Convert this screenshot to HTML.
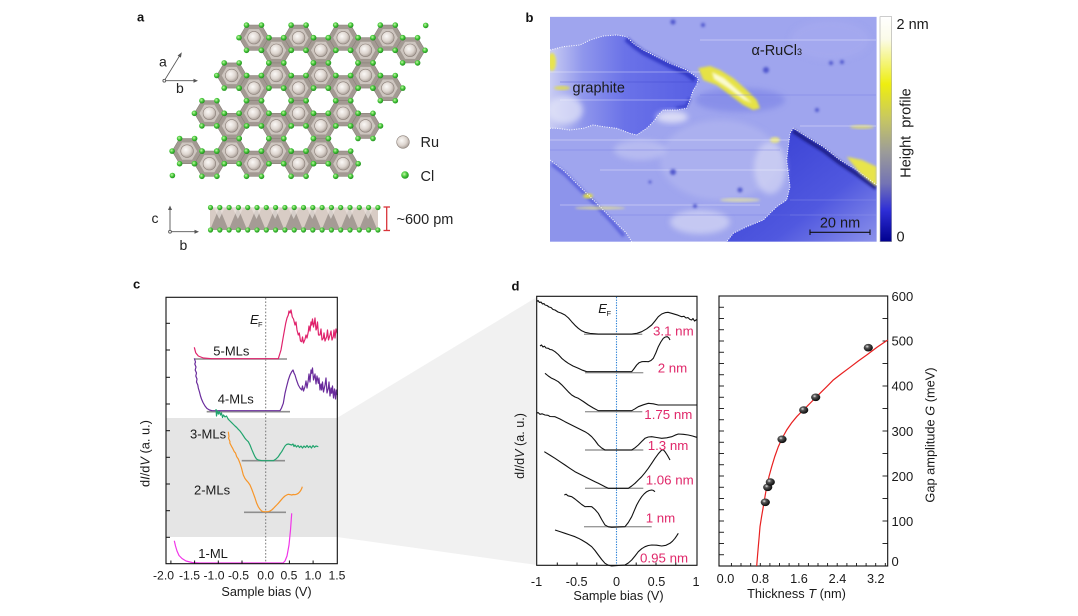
<!DOCTYPE html>
<html><head><meta charset="utf-8"><style>
html,body{margin:0;padding:0;background:#fff;}
svg{display:block;font-family:"Liberation Sans",Arial,sans-serif;}
</style></head><body>
<svg width="1078" height="616" viewBox="0 0 1078 616" xmlns="http://www.w3.org/2000/svg">
<defs>
 <radialGradient id="ruG" cx="40%" cy="38%" r="65%"><stop offset="0" stop-color="#fbf9f7"/><stop offset="0.6" stop-color="#ddd5cf"/><stop offset="1" stop-color="#a99f98"/></radialGradient>
 <radialGradient id="clG" cx="40%" cy="38%" r="65%"><stop offset="0" stop-color="#c8f7a8"/><stop offset="0.5" stop-color="#47c93c"/><stop offset="1" stop-color="#1f8a1c"/></radialGradient>
 <radialGradient id="ballG" cx="38%" cy="35%" r="70%"><stop offset="0" stop-color="#e8e8e8"/><stop offset="0.3" stop-color="#555"/><stop offset="1" stop-color="#000"/></radialGradient>
 <g id="hx">
  <polygon points="15,0 7.5,12.6 -7.5,12.6 -15,0 -7.5,-12.6 7.5,-12.6" fill="#a39a93" stroke="#8a807a" stroke-width="0.6"/>
  <polygon points="10,0 5,8.6 -5,8.6 -10,0 -5,-8.6 5,-8.6" fill="#cdc5bf"/>
  <circle r="6.3" fill="url(#ruG)" stroke="#8a7f78" stroke-width="0.6"/>
 </g>
 <g id="cl6">
  <circle cx="15" cy="0" r="2.8" fill="url(#clG)"/><circle cx="7.5" cy="12.6" r="2.8" fill="url(#clG)"/>
  <circle cx="-7.5" cy="12.6" r="2.8" fill="url(#clG)"/><circle cx="-15" cy="0" r="2.8" fill="url(#clG)"/>
  <circle cx="-7.5" cy="-12.6" r="2.8" fill="url(#clG)"/><circle cx="7.5" cy="-12.6" r="2.8" fill="url(#clG)"/>
 </g>
 <clipPath id="bclip"><rect x="550" y="16.7" width="326.7" height="225"/></clipPath>
 <filter id="bl1" x="-20%" y="-20%" width="140%" height="140%"><feGaussianBlur stdDeviation="1.2"/></filter>
 <filter id="bl3" x="-30%" y="-30%" width="160%" height="160%"><feGaussianBlur stdDeviation="3"/></filter>
 <linearGradient id="gGraph" gradientUnits="userSpaceOnUse" x1="550" y1="0" x2="700" y2="0">
  <stop offset="0" stop-color="#c9ccf3"/><stop offset="0.22" stop-color="#8f96ec"/><stop offset="0.5" stop-color="#6a72e8"/><stop offset="1" stop-color="#565ee4"/></linearGradient>
 <linearGradient id="gDark" gradientUnits="userSpaceOnUse" x1="790" y1="130" x2="876" y2="241">
  <stop offset="0" stop-color="#3d45d6"/><stop offset="0.55" stop-color="#5058df"/><stop offset="1" stop-color="#8a90ea"/></linearGradient>
 <linearGradient id="cbar" x1="0" y1="0" x2="0" y2="1">
  <stop offset="0" stop-color="#ffffff"/><stop offset="0.1" stop-color="#fbfbe8"/><stop offset="0.3" stop-color="#eeee10"/><stop offset="0.45" stop-color="#c8c860"/><stop offset="0.6" stop-color="#9c9c98"/><stop offset="0.74" stop-color="#7474b4"/><stop offset="0.86" stop-color="#2e2ed6"/><stop offset="1" stop-color="#00008e"/></linearGradient>
</defs>
<rect width="1078" height="616" fill="#fff"/>

<!-- ================= Panel a ================= -->
<text x="137" y="21.5" font-size="13" font-weight="bold" fill="#111">a</text>
<g>
 <use href="#hx" x="254" y="37.7"/><use href="#hx" x="298.6" y="37.7"/><use href="#hx" x="343.2" y="37.7"/><use href="#hx" x="387.8" y="37.7"/>
 <use href="#hx" x="276.3" y="50.3"/><use href="#hx" x="320.9" y="50.3"/><use href="#hx" x="365.5" y="50.3"/><use href="#hx" x="410.1" y="50.3"/>
 <use href="#hx" x="231.7" y="75.5"/><use href="#hx" x="276.3" y="75.5"/><use href="#hx" x="320.9" y="75.5"/><use href="#hx" x="365.5" y="75.5"/>
 <use href="#hx" x="254" y="88.1"/><use href="#hx" x="298.6" y="88.1"/><use href="#hx" x="343.2" y="88.1"/><use href="#hx" x="387.8" y="88.1"/>
 <use href="#hx" x="209.4" y="113.3"/><use href="#hx" x="254" y="113.3"/><use href="#hx" x="298.6" y="113.3"/><use href="#hx" x="343.2" y="113.3"/>
 <use href="#hx" x="231.7" y="125.9"/><use href="#hx" x="276.3" y="125.9"/><use href="#hx" x="320.9" y="125.9"/><use href="#hx" x="365.5" y="125.9"/>
 <use href="#hx" x="187.1" y="151.1"/><use href="#hx" x="231.7" y="151.1"/><use href="#hx" x="276.3" y="151.1"/><use href="#hx" x="320.9" y="151.1"/>
 <use href="#hx" x="209.4" y="163.7"/><use href="#hx" x="254" y="163.7"/><use href="#hx" x="298.6" y="163.7"/><use href="#hx" x="343.2" y="163.7"/>
</g>
<g>
 <use href="#cl6" x="254" y="37.7"/><use href="#cl6" x="298.6" y="37.7"/><use href="#cl6" x="343.2" y="37.7"/><use href="#cl6" x="387.8" y="37.7"/>
 <use href="#cl6" x="276.3" y="50.3"/><use href="#cl6" x="320.9" y="50.3"/><use href="#cl6" x="365.5" y="50.3"/><use href="#cl6" x="410.1" y="50.3"/>
 <use href="#cl6" x="231.7" y="75.5"/><use href="#cl6" x="276.3" y="75.5"/><use href="#cl6" x="320.9" y="75.5"/><use href="#cl6" x="365.5" y="75.5"/>
 <use href="#cl6" x="254" y="88.1"/><use href="#cl6" x="298.6" y="88.1"/><use href="#cl6" x="343.2" y="88.1"/><use href="#cl6" x="387.8" y="88.1"/>
 <use href="#cl6" x="209.4" y="113.3"/><use href="#cl6" x="254" y="113.3"/><use href="#cl6" x="298.6" y="113.3"/><use href="#cl6" x="343.2" y="113.3"/>
 <use href="#cl6" x="231.7" y="125.9"/><use href="#cl6" x="276.3" y="125.9"/><use href="#cl6" x="320.9" y="125.9"/><use href="#cl6" x="365.5" y="125.9"/>
 <use href="#cl6" x="187.1" y="151.1"/><use href="#cl6" x="231.7" y="151.1"/><use href="#cl6" x="276.3" y="151.1"/><use href="#cl6" x="320.9" y="151.1"/>
 <use href="#cl6" x="209.4" y="163.7"/><use href="#cl6" x="254" y="163.7"/><use href="#cl6" x="298.6" y="163.7"/><use href="#cl6" x="343.2" y="163.7"/>
 <circle cx="425.7" cy="25.4" r="2.8" fill="url(#clG)"/><circle cx="172.4" cy="175.5" r="2.8" fill="url(#clG)"/>
</g>
<!-- axes a,b -->
<g stroke="#555" stroke-width="0.9" fill="#555">
 <line x1="164.3" y1="80.7" x2="180.6" y2="54.2"/><polygon points="181.8,52.2 177.6,55.6 180.9,57.6" stroke="none"/>
 <line x1="164.3" y1="80.7" x2="195" y2="80.7"/><polygon points="198,80.7 193.5,78.7 193.5,82.7" stroke="none"/>
 <circle cx="164.3" cy="80.7" r="1.4" fill="#fff"/>
</g>
<text x="159" y="66.5" font-size="14" fill="#222">a</text>
<text x="176" y="93" font-size="14" fill="#222">b</text>
<!-- legend -->
<circle cx="403" cy="142" r="6.3" fill="url(#ruG)" stroke="#8a7f78" stroke-width="0.6"/>
<text x="420.5" y="147" font-size="14.5" fill="#222">Ru</text>
<circle cx="405" cy="175" r="3.8" fill="url(#clG)"/>
<text x="420.5" y="181" font-size="14.5" fill="#222">Cl</text>
<!-- side view -->
<g stroke="#555" stroke-width="0.9" fill="#555">
 <line x1="170" y1="231.7" x2="170" y2="209"/><polygon points="170,205.5 168,210 172,210" stroke="none"/>
 <line x1="170" y1="231.7" x2="195.5" y2="231.7"/><polygon points="199,231.7 194.5,229.7 194.5,233.7" stroke="none"/>
 <circle cx="170" cy="231.7" r="1.4" fill="#fff"/>
</g>
<text x="151.5" y="223" font-size="14" fill="#222">c</text>
<text x="179.5" y="250" font-size="14" fill="#222">b</text>
<rect x="210" y="207.5" width="168" height="22.5" fill="#d8ccc5"/>
<g fill="#a59b95">
 <polygon points="210,230 219.3,207.5 228.6,230"/><polygon points="228.6,230 237.9,207.5 247.2,230"/><polygon points="247.2,230 256.5,207.5 265.8,230"/>
 <polygon points="265.8,230 275.1,207.5 284.4,230"/><polygon points="284.4,230 293.7,207.5 303,230"/><polygon points="303,230 312.3,207.5 321.6,230"/>
 <polygon points="321.6,230 330.9,207.5 340.2,230"/><polygon points="340.2,230 349.5,207.5 358.8,230"/><polygon points="358.8,230 368.1,207.5 377.4,230"/>
</g>
<g fill="#ece4df" opacity="0.7">
 <polygon points="214,208 219.3,219 224.6,208"/><polygon points="232.6,208 237.9,219 243.2,208"/><polygon points="251.2,208 256.5,219 261.8,208"/>
 <polygon points="269.8,208 275.1,219 280.4,208"/><polygon points="288.4,208 293.7,219 299,208"/><polygon points="307,208 312.3,219 317.6,208"/>
 <polygon points="325.6,208 330.9,219 336.2,208"/><polygon points="344.2,208 349.5,219 354.8,208"/><polygon points="362.8,208 368.1,219 373.4,208"/>
</g>
<g fill="url(#clG)">
 <circle cx="210.5" cy="207.5" r="2.6"/><circle cx="219.8" cy="207.5" r="2.6"/><circle cx="229.1" cy="207.5" r="2.6"/><circle cx="238.4" cy="207.5" r="2.6"/><circle cx="247.7" cy="207.5" r="2.6"/><circle cx="257" cy="207.5" r="2.6"/><circle cx="266.3" cy="207.5" r="2.6"/><circle cx="275.6" cy="207.5" r="2.6"/><circle cx="284.9" cy="207.5" r="2.6"/><circle cx="294.2" cy="207.5" r="2.6"/><circle cx="303.5" cy="207.5" r="2.6"/><circle cx="312.8" cy="207.5" r="2.6"/><circle cx="322.1" cy="207.5" r="2.6"/><circle cx="331.4" cy="207.5" r="2.6"/><circle cx="340.7" cy="207.5" r="2.6"/><circle cx="350" cy="207.5" r="2.6"/><circle cx="359.3" cy="207.5" r="2.6"/><circle cx="368.6" cy="207.5" r="2.6"/><circle cx="377.9" cy="207.5" r="2.6"/>
 <circle cx="210.5" cy="230" r="2.6"/><circle cx="219.8" cy="230" r="2.6"/><circle cx="229.1" cy="230" r="2.6"/><circle cx="238.4" cy="230" r="2.6"/><circle cx="247.7" cy="230" r="2.6"/><circle cx="257" cy="230" r="2.6"/><circle cx="266.3" cy="230" r="2.6"/><circle cx="275.6" cy="230" r="2.6"/><circle cx="284.9" cy="230" r="2.6"/><circle cx="294.2" cy="230" r="2.6"/><circle cx="303.5" cy="230" r="2.6"/><circle cx="312.8" cy="230" r="2.6"/><circle cx="322.1" cy="230" r="2.6"/><circle cx="331.4" cy="230" r="2.6"/><circle cx="340.7" cy="230" r="2.6"/><circle cx="350" cy="230" r="2.6"/><circle cx="359.3" cy="230" r="2.6"/><circle cx="368.6" cy="230" r="2.6"/><circle cx="377.9" cy="230" r="2.6"/>
</g>
<g stroke="#d8343a" stroke-width="1.3"><line x1="386.7" y1="207" x2="386.7" y2="230.5"/><line x1="383.5" y1="207" x2="390" y2="207"/><line x1="383.5" y1="230.5" x2="390" y2="230.5"/></g>
<text x="396.5" y="224" font-size="14.5" fill="#222">~600 pm</text>

<!-- ================= Panel b ================= -->
<text x="525.5" y="22" font-size="13" font-weight="bold" fill="#111">b</text>
<g clip-path="url(#bclip)">
 <rect x="550" y="16.7" width="326.7" height="225" fill="#9fa5ee"/>
 <!-- subtle tone variation -->
 <ellipse cx="720" cy="160" rx="60" ry="40" fill="#b4b8f0" opacity="0.6" filter="url(#bl3)"/>
 <ellipse cx="740" cy="100" rx="45" ry="12" fill="#7a82e6" opacity="0.6" filter="url(#bl3)"/>
 <ellipse cx="830" cy="40" rx="40" ry="20" fill="#a8acf0" opacity="0.5" filter="url(#bl3)"/>
 <!-- bottom-left region -->
 <polygon points="550,160 563.3,170 580,186.7 596.7,203.3 613.3,220 626.7,233.3 631.7,241.7 550,241.7" fill="#8d94eb"/>
 <polyline points="552,164 565,174 581,190 597,206 612,222 624,236" fill="none" stroke="#4f57d8" stroke-width="4" opacity="0.7" filter="url(#bl1)"/>
 <!-- graphite region -->
 <polygon points="550,50 563.3,46.7 580,45 590,40 603.3,36 616.7,35 626.7,36.7 633.3,43.3 643.3,50 656.7,56.7 670,63.3 686.7,70 698.3,78.3 696.7,85 693.3,90 690,100 686.7,108.3 676.7,110 663.3,110 658.3,115 653.3,121.7 646.7,128.3 636.7,135 630,133.3 616.7,128.3 603.3,126.7 593.3,125 583.3,128.3 570,130 556.7,128.3 550,128.3" fill="url(#gGraph)"/>
 <polyline points="626,39 634,46 644,53 657,59.5 670,66 686,73 695,80" fill="none" stroke="#2a32c0" stroke-width="5" opacity="0.8" filter="url(#bl1)"/>
 <polyline points="690,98 686,106 676,108" fill="none" stroke="#2a32c0" stroke-width="3" opacity="0.6" filter="url(#bl1)"/>
 <ellipse cx="565" cy="110" rx="18" ry="14" fill="#e4e6f8" opacity="0.7" filter="url(#bl3)"/>
 <!-- dark right region -->
 <polygon points="793.3,128.3 806.7,136.7 823.3,146.7 840,160 856.7,170 876.7,185 876.7,241.7 726.7,241.7 733.3,233.3 746.7,226.7 763.3,220 770,213.3 776.7,206.7 786.7,200 790,186.7 788.3,173.3 786.7,160 788.3,146.7 790,133.3" fill="url(#gDark)"/>
 <polyline points="793,131 806,139.5 823,150 840,163 856,173.5 876,188" fill="none" stroke="#14197a" stroke-width="4" opacity="0.85" filter="url(#bl1)"/>
 <!-- light patches -->
 <ellipse cx="672" cy="117" rx="16" ry="6" fill="#e8e8f8" opacity="0.8" filter="url(#bl3)"/>
 <ellipse cx="770" cy="168" rx="16" ry="26" fill="#d4d6f4" opacity="0.7" filter="url(#bl3)"/>
 <ellipse cx="700" cy="222" rx="30" ry="12" fill="#d6d8f4" opacity="0.7" filter="url(#bl3)"/>
 <ellipse cx="640" cy="150" rx="26" ry="10" fill="#c6c9f2" opacity="0.6" filter="url(#bl3)"/>
 <!-- yellow features -->
 <polygon points="698.3,68.3 710,66 720,70 733.3,78.3 746.7,90 756.7,100 760,108.3 753.3,110 743.3,105 730,95 716.7,85 703.3,80" fill="#e6e244" filter="url(#bl1)"/>
 <polygon points="712,72 724,78 740,92 752,103 744,100 728,88 714,79" fill="#fafad0" filter="url(#bl1)"/>
 <polygon points="846.7,156.7 862,160 876.7,166.7 876.7,186.7 860,173.3" fill="#e8e44c" filter="url(#bl1)"/>
 <ellipse cx="552" cy="62" rx="4" ry="9" fill="#e8e450" filter="url(#bl1)"/>
 <ellipse cx="588" cy="196" rx="5" ry="2.5" fill="#e0dc50" filter="url(#bl1)"/>
 <ellipse cx="600" cy="208" rx="25" ry="1.5" fill="#e6e290" opacity="0.8" filter="url(#bl1)"/>
 <ellipse cx="562" cy="88" rx="8" ry="2" fill="#e0dc50" opacity="0.9" filter="url(#bl1)"/>
 <ellipse cx="862" cy="127" rx="12" ry="2" fill="#e0dc70" opacity="0.8" filter="url(#bl1)"/>
 <ellipse cx="775" cy="140" rx="5" ry="3" fill="#ece880" opacity="0.9" filter="url(#bl1)"/>
 <ellipse cx="740" cy="200" rx="20" ry="2" fill="#e8e6a0" opacity="0.7" filter="url(#bl1)"/>
 <!-- streaks -->
 <g stroke-width="0.9" opacity="0.35">
  <line x1="550" y1="140" x2="790" y2="140" stroke="#fff"/><line x1="550" y1="150" x2="780" y2="150" stroke="#6a70e0"/>
  <line x1="600" y1="170" x2="790" y2="170" stroke="#fff"/><line x1="560" y1="205" x2="760" y2="205" stroke="#fff"/>
  <line x1="600" y1="215" x2="790" y2="215" stroke="#6a70e0"/><line x1="550" y1="72" x2="700" y2="72" stroke="#fff"/>
  <line x1="560" y1="82" x2="700" y2="82" stroke="#3a40c8"/><line x1="560" y1="100" x2="690" y2="100" stroke="#fff"/>
  <line x1="700" y1="40" x2="876" y2="40" stroke="#fff"/><line x1="700" y1="95" x2="876" y2="95" stroke="#6a70e0"/>
  <line x1="790" y1="200" x2="876" y2="200" stroke="#9aa0ec"/><line x1="790" y1="215" x2="876" y2="215" stroke="#9aa0ec"/>
  <line x1="800" y1="126" x2="876" y2="126" stroke="#fff"/>
 </g>
 <!-- dark spots -->
 <g fill="#3a42c4" opacity="0.8" filter="url(#bl1)">
  <circle cx="673" cy="22" r="2.5"/><circle cx="703" cy="25" r="2"/><circle cx="831" cy="63" r="2"/><circle cx="842" cy="62" r="2"/>
  <circle cx="673" cy="172" r="3"/><circle cx="740" cy="190" r="2.5"/><circle cx="695" cy="206" r="2"/><circle cx="766" cy="70" r="3"/>
  <circle cx="817" cy="110" r="2"/><circle cx="650" cy="182" r="1.5"/>
 </g>
 <!-- dotted outlines -->
 <g fill="none" stroke="#fff" stroke-width="1" stroke-dasharray="1 1.4">
  <polyline points="550,50 563.3,46.7 580,45 590,40 603.3,36 616.7,35 626.7,36.7 633.3,43.3 643.3,50 656.7,56.7 670,63.3 686.7,70 698.3,78.3 696.7,85 693.3,90 690,100 686.7,108.3 676.7,110 663.3,110 658.3,115 653.3,121.7 646.7,128.3 636.7,135 630,133.3 616.7,128.3 603.3,126.7 593.3,125 583.3,128.3 570,130 556.7,128.3 550,128.3"/>
  <polyline points="550,160 563.3,170 580,186.7 596.7,203.3 613.3,220 626.7,233.3 631.7,241.7"/>
  <polyline points="876.7,185 856.7,170 840,160 823.3,146.7 806.7,136.7 793.3,128.3 790,133.3 788.3,146.7 786.7,160 788.3,173.3 790,186.7 786.7,200 776.7,206.7 770,213.3 763.3,220 746.7,226.7 733.3,233.3 726.7,241.7"/>
 </g>
</g>
<text x="751.5" y="55" font-size="14.5" fill="#1a1a1a">α-RuCl<tspan font-size="9">3</tspan></text>
<text x="572.5" y="92.5" font-size="14.5" fill="#1a1a1a">graphite</text>
<g stroke="#111" stroke-width="1.1"><line x1="810" y1="232.3" x2="870" y2="232.3"/><line x1="810" y1="229.5" x2="810" y2="235"/><line x1="870" y1="229.5" x2="870" y2="235"/></g>
<text x="840" y="227.5" font-size="14.5" fill="#1a1a1a" text-anchor="middle">20 nm</text>
<rect x="880" y="16.7" width="11.7" height="225" fill="url(#cbar)" stroke="#aaa" stroke-width="0.6"/>
<text x="896.5" y="29" font-size="14.5" fill="#1a1a1a">2 nm</text>
<text x="896.5" y="241.5" font-size="14.5" fill="#1a1a1a">0</text>
<text transform="translate(910.5,133) rotate(-90)" font-size="14.5" fill="#1a1a1a" text-anchor="middle" xml:space="preserve">Height  profile</text>

<!-- ================= Fan ================= -->
<polygon points="337,418 537,297 537,565 337,537" fill="#f1f1f1"/>

<!-- ================= Panel c ================= -->
<text x="133" y="288.5" font-size="13" font-weight="bold" fill="#111">c</text>
<rect x="166" y="418" width="171.3" height="119" fill="#e5e5e5"/>
<line x1="265.7" y1="298" x2="265.7" y2="563.5" stroke="#777" stroke-width="1" stroke-dasharray="1.6 1.8"/>
<g stroke="#8e8e8e" stroke-width="1.6">
 <line x1="195" y1="359" x2="287" y2="359"/><line x1="206.7" y1="411.7" x2="290" y2="411.7"/>
 <line x1="241.7" y1="460.7" x2="285" y2="460.7"/><line x1="244" y1="512.3" x2="286" y2="512.3"/>
</g>
<g fill="none" stroke-width="1.2" stroke-linejoin="round">
 <path stroke="#e0236c" d="M194.3,347.3 L195.7,352.7 L198.3,356 L203.3,358 L211.7,358.7 L278.3,358.7 L281,350 L283.3,336.7 L284.5,330 L285.7,323.3 L287,318 L288.3,315 L289,311 L290,313 L291,310 L292.3,317 L293.5,319 L295,325 L296,322 L297,330 L298.3,335 L299.3,333 L300.5,341 L301.7,341.7 L302.5,337 L303.5,343 L305,339.3 L306,335 L307,338 L308.3,331.7 L309,326 L310,331 L311,322 L311.7,325 L312.5,319 L313.5,327 L314.3,323.3 L315,318 L316,330 L316.7,328.3 L317.5,322 L318.5,335 L320,335 L321,329 L322,340 L323.3,338.3 L324,333 L325,341 L326.7,336.7 L327.5,330 L328.5,340 L330,335 L331,331 L332,340 L333.3,336.7 L334,330 L335,338 L336,329 L337.3,333.3"/>
 <path stroke="#6a2c9c" d="M194.3,358.3 L195.5,362 L194.8,364 L196,367 L195.2,370 L196.5,373 L195.8,376 L197,379 L196.5,382 L197.8,385 L198.3,388 L199.5,392 L200.5,396 L201.5,399 L203,402.5 L205,406 L207,408.5 L209.5,410 L212,410.7 L280,410.7 L281.5,408 L283.3,403.3 L284.2,398 L285,393.3 L286.5,387 L288.3,380 L290,375 L291.7,371.7 L293,370 L294,373 L295,375 L296.5,380 L298.3,385 L300,388 L301.7,390 L302.5,386 L303.5,391 L305,386.7 L306,381 L307,388 L308.3,380 L309,374 L310,382 L311,370 L311.7,373.3 L312.5,368 L313.5,380 L315,374 L316,384 L317,376 L318.3,383.3 L319,378 L320,390 L321,384 L321.7,390 L322.5,382 L323.5,392 L325,385 L326,378 L327,393 L328.3,388.3 L329,382 L330,396 L331,388 L331.7,393.3 L332.5,386 L333.5,398 L334.5,389 L335.5,399 L336.3,390 L337.3,395"/>
 <path stroke="#22a46e" d="M216,409 L216.5,416 L217.5,411 L218.5,414 L219.5,411.5 L220.5,415 L221.5,413 L222.5,417.5 L223.5,415 L225,417 L226.5,416 L228.3,419.3 L230,421 L231.7,422.7 L233.5,424.5 L235,426 L236.7,427.5 L238.3,429.3 L240,431 L241.7,433.3 L243.5,436 L245,438.3 L246.5,440 L248.3,441.7 L250,445 L251.7,449.3 L253.5,453.5 L255,456.7 L256.5,459 L258.3,460 L262,460.7 L273.3,460.7 L276,459 L278.3,456.7 L280,454 L281.7,451.7 L283.5,448.5 L285,446 L286.5,444.5 L288.3,444 L290,444.5 L291.7,445 L293,444 L294,446.5 L295,445 L296.5,447 L298,445.5 L299.5,447.5 L301,446 L302.5,448 L304,446 L305.5,447.5 L307,445.5 L308.5,447.5 L310,446 L311.5,448 L313,445.5 L314.5,447.3 L316,446 L318.3,446.7"/>
 <path stroke="#f7962a" d="M228.3,431.7 L229,436.7 L228.5,438 L230,441.7 L229.8,443 L231.7,446.7 L232.5,448 L234.3,451.7 L235.5,453 L236.7,456.7 L238.3,459 L240,463.3 L241.5,468 L243.3,475 L245,478.5 L246.7,480.7 L248.3,482.5 L250,485 L251.7,489 L253.3,493.3 L255,498 L256.7,503.3 L258.3,506.8 L260,509.3 L261.7,511 L263.3,511.7 L268.3,511.7 L270,511 L271.7,510 L273.3,508.5 L275,506.7 L276.7,505 L278.3,503.3 L280,501.3 L281.7,499.3 L283.3,497.5 L285,496 L286.7,495 L288.3,494.3 L290,494.6 L291.7,495 L293.3,494.5 L295,494.7 L296.7,494.2 L298.3,493.3 L299.8,491.8 L301,490 L301.8,488.3 L302.3,486.7"/>
 <path stroke="#f035e8" d="M174.3,540.7 L175.5,546 L177,551 L179,555.5 L182,558.5 L186,561 L192,562.5 L200,563 L283,563 L285,561 L287,556 L289,545 L290.5,530 L291.7,513.3"/>
</g>
<rect x="166" y="297.3" width="171.3" height="266.4" fill="none" stroke="#111" stroke-width="1.1"/>
<g stroke="#111" stroke-width="1">
 <line x1="166" y1="323.3" x2="170" y2="323.3"/><line x1="166" y1="350" x2="170" y2="350"/><line x1="166" y1="377.3" x2="170" y2="377.3"/>
 <line x1="166" y1="404" x2="170" y2="404"/><line x1="166" y1="430.7" x2="170" y2="430.7"/><line x1="166" y1="457.3" x2="170" y2="457.3"/>
 <line x1="166" y1="484" x2="170" y2="484"/><line x1="166" y1="510.7" x2="170" y2="510.7"/><line x1="166" y1="537.3" x2="170" y2="537.3"/>
 <line x1="170.9" y1="563.7" x2="170.9" y2="560.5"/><line x1="194.6" y1="563.7" x2="194.6" y2="560.5"/><line x1="218.3" y1="563.7" x2="218.3" y2="560.5"/>
 <line x1="242" y1="563.7" x2="242" y2="560.5"/><line x1="289.4" y1="563.7" x2="289.4" y2="560.5"/><line x1="313.1" y1="563.7" x2="313.1" y2="560.5"/>
</g>
<g font-size="12.2" fill="#1a1a1a" text-anchor="middle">
 <text x="163.5" y="579.5">-2.0</text><text x="189.5" y="579.5">-1.5</text><text x="214" y="579.5">-1.0</text><text x="238.5" y="579.5">-0.5</text>
 <text x="265.7" y="579.5">0.0</text><text x="289" y="579.5">0.5</text><text x="313" y="579.5">1.0</text><text x="337" y="579.5">1.5</text>
</g>
<text x="266.5" y="596" font-size="12.7" fill="#1a1a1a" text-anchor="middle">Sample bias (V)</text>
<text transform="translate(149.5,453.5) rotate(-90)" font-size="12.8" fill="#1a1a1a" text-anchor="middle">d<tspan font-style="italic">I</tspan>/d<tspan font-style="italic">V</tspan> (a. u.)</text>
<text x="250" y="324" font-size="13" font-style="italic" fill="#1a1a1a">E</text><text x="258" y="327" font-size="7.5" fill="#1a1a1a">F</text>
<g font-size="13" fill="#1a1a1a">
 <text x="213.3" y="355.5">5-MLs</text><text x="217.7" y="403.5">4-MLs</text><text x="190" y="438.5">3-MLs</text>
 <text x="194" y="494.5">2-MLs</text><text x="198.3" y="558">1-ML</text>
</g>

<!-- ================= Panel d (left) ================= -->
<text x="511.5" y="290.5" font-size="13" font-weight="bold" fill="#111">d</text>
<rect x="536.7" y="296.3" width="160.3" height="269" fill="#fff"/>
<line x1="616.5" y1="297" x2="616.5" y2="565" stroke="#2a80d6" stroke-width="1.1" stroke-dasharray="1.3 1.3"/>
<g stroke="#9a9a9a" stroke-width="1.4">
 <line x1="584" y1="334.3" x2="642.3" y2="334.3"/><line x1="585" y1="372.7" x2="643.3" y2="372.7"/><line x1="585" y1="411.7" x2="642.3" y2="411.7"/>
 <line x1="585" y1="450" x2="643.3" y2="450"/><line x1="585" y1="488.3" x2="643.3" y2="488.3"/><line x1="584" y1="526.7" x2="651.7" y2="526.7"/>
</g>
<g fill="none" stroke="#111" stroke-width="1.1" stroke-linejoin="round">
 <path d="M536.7,301.7 L538,300.5 L539.5,302.5 L541,302 L542.5,304 L544,303.5 L545,305 L547,305.5 L549,307 L551,307.5 L553,309.5 L555,310 L558,312 L561,313 L565,315 L568.5,318 L571.7,321.7 L575,325.3 L578.3,328.3 L581.7,330.8 L585,332.3 L590,333.4 L598.3,334 L631.7,334 L637,333.3 L641.7,331.7 L646.7,328.8 L651.7,325 L655,321 L658.3,316.7 L661.7,314 L665,312.7 L668,312.3 L671.7,313.3 L675,314.3 L678,315.2 L681.7,316.7 L684,316.3 L686,318 L688,317.6 L690,319.5 L691.7,320 L693,318.5 L694.5,321 L696.7,319.5"/>
 <path d="M540,346 L541.5,345 L543,347 L544.5,346.2 L546,348 L548.3,348.3 L550,349.5 L552,349.8 L555,351.7 L558.3,354.5 L561.7,358.3 L565,361 L568.3,363.3 L573,366 L578.3,368.3 L582.5,370.2 L586.7,371.7 L631.7,371.7 L634.2,368.5 L636.7,365 L639,362.8 L641.7,361.7 L645,361.5 L648.3,361.7 L651,360.5 L653.3,358.3 L655.8,353 L658.3,346.7 L660.8,342 L663.3,338.3 L665.3,337 L667.3,336.7 L668.8,337.8 L670,340"/>
 <path d="M545,373.3 L548.3,376 L551.7,378.3 L555,379.8 L558.3,381.7 L561.7,384.8 L565,388.3 L568.3,391.8 L571.7,395 L575,397 L578.3,398.3 L583.3,401.5 L588.3,405 L593.3,408 L598.3,410.7 L631.7,410.7 L635,408.8 L638.3,406.7 L643.3,404.8 L648.3,403.3 L653.3,403.8 L658.3,405 L671.7,405 L696.7,405"/>
 <path d="M536.7,413.3 L538,412.5 L540,414.3 L542,413.8 L545,415 L548,415.3 L550,416.5 L555,416.7 L560,419 L565,421.7 L570,424.2 L575,426.7 L580,429.2 L585,431.7 L588.3,433.8 L591.7,436.7 L595,440.5 L598.3,445 L601.7,448 L605,450 L631.7,450 L635,447.8 L638.3,445 L641.7,441.5 L645,438.3 L648.3,437 L651.7,436.7 L656.7,437.5 L661.7,438.3 L666.7,437.8 L671.7,436.7 L675,435.2 L678.3,434 L683.3,434.3 L688.3,435 L692.5,436 L696.7,437.3"/>
 <path d="M544.3,451.7 L549.7,455 L555,458.3 L560,461.7 L565,465 L570,468.4 L575,471.7 L580,474.2 L585,476.7 L590,479.2 L595,481.7 L598.3,483.3 L601.7,485 L605,486.7 L608.3,488.3 L628.3,488.3 L631.7,486 L635,483.3 L638.3,480 L641.7,476.7 L645,472.7 L648.3,468.3 L651.7,463.3 L655,458.3 L658.3,453.8 L661.7,450 L663.3,449.8 L665,451.7 L667.5,455.5 L670,460"/>
 <path d="M564.3,495 L566,494.2 L568,495.8 L571.7,496.7 L575,499 L578.3,501.7 L581.7,504.5 L585,506.7 L588.3,506.5 L591.7,506.7 L595,509.5 L598.3,513.3 L601.7,519.5 L605,525 L608.3,526.8 L611.7,527.3 L625,526.7 L628.3,522.5 L631.7,516.7 L634.2,510.8 L636.7,505 L639.2,500.5 L641.7,496.7 L644.2,493.8 L646.7,491.7 L649.2,490.5 L651.7,490 L653.3,490.4 L655,491.7"/>
 <path d="M555,530 L560,531.6 L565,533.3 L570,535 L575,536.7 L578.3,538.2 L581.7,540 L586.7,543 L591.7,546.7 L595,550.5 L598.3,555 L601.7,559.5 L605,563.3 L608.3,565.2 L611.7,566 L625,565 L628.3,563 L631.7,560 L635,556 L638.3,551.7 L641.7,548.7 L645,546.7 L648.3,545.5 L651.7,545 L656.7,545.2 L661.7,546 L666,545.3 L670,543.3 L672.5,541.2 L675,538.3 L676.7,535.8 L678.3,533.3"/>
</g>
<rect x="536.7" y="296.3" width="160.3" height="269" fill="none" stroke="#111" stroke-width="1.1"/>
<g stroke="#111" stroke-width="1">
 <line x1="557.3" y1="565.3" x2="557.3" y2="562.5"/><line x1="577" y1="565.3" x2="577" y2="562.5"/><line x1="596.8" y1="565.3" x2="596.8" y2="562.5"/>
 <line x1="636.2" y1="565.3" x2="636.2" y2="562.5"/><line x1="656" y1="565.3" x2="656" y2="562.5"/><line x1="675.8" y1="565.3" x2="675.8" y2="562.5"/>
</g>
<g font-size="12.7" fill="#1a1a1a" text-anchor="middle">
 <text x="536.5" y="586">-1</text><text x="576.7" y="586">-0.5</text><text x="616.5" y="586">0</text><text x="656.5" y="586">0.5</text><text x="696" y="586">1</text>
</g>
<text x="618.5" y="600" font-size="12.7" fill="#1a1a1a" text-anchor="middle">Sample bias (V)</text>
<text transform="translate(524,446) rotate(-90)" font-size="12.6" fill="#1a1a1a" text-anchor="middle">d<tspan font-style="italic">I</tspan>/d<tspan font-style="italic">V</tspan>  (a. u.)</text>
<text x="598.3" y="313" font-size="13" font-style="italic" fill="#1a1a1a">E</text><text x="606.5" y="316" font-size="7.5" fill="#1a1a1a">F</text>
<g font-size="13.3" fill="#e0286a">
 <text x="653" y="335.5">3.1 nm</text><text x="657.7" y="372.3">2 nm</text><text x="644.3" y="419">1.75 nm</text>
 <text x="647.7" y="450">1.3 nm</text><text x="645.7" y="484.3">1.06 nm</text><text x="645.7" y="522.3">1 nm</text><text x="640" y="562.7">0.95 nm</text>
</g>

<!-- ================= Panel d (right) ================= -->
<rect x="719" y="296" width="168.7" height="270" fill="#fff" stroke="#111" stroke-width="1.1"/>
<g stroke="#111" stroke-width="0.9">
 <!-- left ticks every 25 meV -->
 <line x1="719" y1="554.75" x2="724" y2="554.75"/><line x1="719" y1="543.5" x2="724" y2="543.5"/><line x1="719" y1="532.25" x2="724" y2="532.25"/><line x1="719" y1="521" x2="724" y2="521"/>
 <line x1="719" y1="509.75" x2="724" y2="509.75"/><line x1="719" y1="498.5" x2="724" y2="498.5"/><line x1="719" y1="487.25" x2="724" y2="487.25"/><line x1="719" y1="476" x2="724" y2="476"/>
 <line x1="719" y1="464.75" x2="724" y2="464.75"/><line x1="719" y1="453.5" x2="724" y2="453.5"/><line x1="719" y1="442.25" x2="724" y2="442.25"/><line x1="719" y1="431" x2="724" y2="431"/>
 <line x1="719" y1="419.75" x2="724" y2="419.75"/><line x1="719" y1="408.5" x2="724" y2="408.5"/><line x1="719" y1="397.25" x2="724" y2="397.25"/><line x1="719" y1="386" x2="724" y2="386"/>
 <line x1="719" y1="374.75" x2="724" y2="374.75"/><line x1="719" y1="363.5" x2="724" y2="363.5"/><line x1="719" y1="352.25" x2="724" y2="352.25"/><line x1="719" y1="341" x2="724" y2="341"/>
 <line x1="719" y1="329.75" x2="724" y2="329.75"/><line x1="719" y1="318.5" x2="724" y2="318.5"/><line x1="719" y1="307.25" x2="724" y2="307.25"/>
 <!-- right ticks every 50 meV -->
 <line x1="882.5" y1="543.5" x2="887.7" y2="543.5"/><line x1="882.5" y1="521" x2="887.7" y2="521"/><line x1="882.5" y1="498.5" x2="887.7" y2="498.5"/><line x1="882.5" y1="476" x2="887.7" y2="476"/>
 <line x1="882.5" y1="453.5" x2="887.7" y2="453.5"/><line x1="882.5" y1="431" x2="887.7" y2="431"/><line x1="882.5" y1="408.5" x2="887.7" y2="408.5"/><line x1="882.5" y1="386" x2="887.7" y2="386"/>
 <line x1="882.5" y1="363.5" x2="887.7" y2="363.5"/><line x1="882.5" y1="341" x2="887.7" y2="341"/><line x1="882.5" y1="318.5" x2="887.7" y2="318.5"/>
 <!-- bottom ticks every 0.2 nm -->
 <line x1="731.4" y1="566" x2="731.4" y2="563"/><line x1="741" y1="566" x2="741" y2="563"/><line x1="750.7" y1="566" x2="750.7" y2="563"/><line x1="760.3" y1="566" x2="760.3" y2="563"/>
 <line x1="769.9" y1="566" x2="769.9" y2="563"/><line x1="779.5" y1="566" x2="779.5" y2="563"/><line x1="789.1" y1="566" x2="789.1" y2="563"/><line x1="798.8" y1="566" x2="798.8" y2="563"/>
 <line x1="808.4" y1="566" x2="808.4" y2="563"/><line x1="818" y1="566" x2="818" y2="563"/><line x1="827.6" y1="566" x2="827.6" y2="563"/><line x1="837.2" y1="566" x2="837.2" y2="563"/>
 <line x1="846.9" y1="566" x2="846.9" y2="563"/><line x1="856.5" y1="566" x2="856.5" y2="563"/><line x1="866.1" y1="566" x2="866.1" y2="563"/><line x1="875.7" y1="566" x2="875.7" y2="563"/>
 <line x1="885.3" y1="566" x2="885.3" y2="563"/>
</g>
<path d="M756.7,566 L757.5,556 L758.3,546.7 L759.2,536.5 L760,526.7 L761.6,516.5 L763.3,506.7 L765,496.5 L766.7,486.7 L769,476.5 L771.7,466.7 L774.8,456.5 L778.3,446.7 L782.3,438 L786.7,430 L791.5,423 L796.7,416.7 L801.7,411.5 L806.7,406.7 L813.3,400 L820,393.3 L826.7,386.7 L833.3,380 L841.7,373.5 L850,367.3 L858.3,361 L866.7,355 L877,347.3 L887.7,340" fill="none" stroke="#e82020" stroke-width="1.2"/>
<g fill="url(#ballG)">
 <ellipse cx="765.3" cy="502.3" rx="4.6" ry="3.8"/><ellipse cx="767.7" cy="487.3" rx="4.6" ry="3.8"/><ellipse cx="770.3" cy="482" rx="4.6" ry="3.8"/>
 <ellipse cx="782" cy="439.3" rx="4.6" ry="3.8"/><ellipse cx="803.7" cy="410" rx="4.6" ry="3.8"/><ellipse cx="815.7" cy="397.3" rx="4.6" ry="3.8"/>
 <ellipse cx="868.3" cy="347.7" rx="4.6" ry="3.8"/>
</g>
<g font-size="13" fill="#1a1a1a">
 <text x="891.5" y="301">600</text><text x="891.5" y="345.5">500</text><text x="891.5" y="390.5">400</text><text x="891.5" y="436">300</text>
 <text x="891.5" y="481">200</text><text x="891.5" y="526">100</text><text x="891.5" y="566">0</text>
</g>
<g font-size="12.7" fill="#1a1a1a" text-anchor="middle">
 <text x="725.5" y="583">0.0</text><text x="760.3" y="583">0.8</text><text x="799" y="583">1.6</text><text x="837.5" y="583">2.4</text><text x="875.8" y="583">3.2</text>
</g>
<text x="796.5" y="598" font-size="12.8" fill="#1a1a1a" text-anchor="middle">Thickness <tspan font-style="italic">T</tspan> (nm)</text>
<text transform="translate(934.5,435) rotate(-90)" font-size="12.8" fill="#1a1a1a" text-anchor="middle">Gap amplitude <tspan font-style="italic">G</tspan> (meV)</text>
</svg>
</body></html>
